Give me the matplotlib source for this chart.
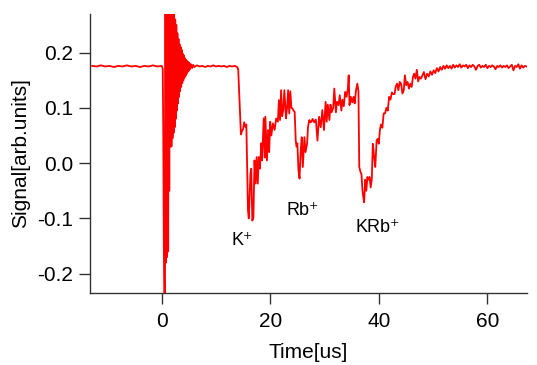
import numpy as np
import matplotlib.pyplot as plt

plt.rcParams['font.family'] = ['Liberation Sans', 'DejaVu Sans']

# pre-trigger baseline
pre_t = [-12.8, -12.0, -11.2, -10.4, -9.6, -8.8, -8.0, -7.2, -6.4, -5.6, -4.8,
         -4.0, -3.2, -2.4, -1.6, -0.8, 0.0]
pre_s = [0.176, 0.175, 0.177, 0.175, 0.176, 0.174, 0.176, 0.175, 0.177, 0.175,
         0.176, 0.174, 0.176, 0.175, 0.177, 0.175, 0.176]

# trigger pickup / ringing
ring_t = [0.1, 0.2, 0.3, 0.4, 0.5, 0.6, 0.7, 0.8, 0.9, 1.0, 1.1, 1.2, 1.3, 1.4,
          1.5, 1.6, 1.7, 1.8, 1.9, 2.0, 2.1, 2.2, 2.3, 2.4, 2.5, 2.6, 2.7, 2.8,
          2.9, 3.0, 3.1, 3.2, 3.3, 3.4, 3.5, 3.6, 3.7, 3.8, 3.9, 4.0, 4.1, 4.2,
          4.3, 4.4, 4.5, 4.6, 4.7, 4.8, 4.9, 5.0, 5.1, 5.2, 5.4, 5.6, 5.8, 6.0]
ring_s = [0.174, 0.17, 0.05, -0.15, -0.26, -0.30, 0.30, -0.18, 0.31, -0.17,
          0.32, -0.16, 0.31, -0.05, 0.31, 0.03, 0.30, 0.03, 0.30, 0.045, 0.29,
          0.055, 0.28, 0.065, 0.26, 0.08, 0.25, 0.095, 0.235, 0.108, 0.225, 0.12,
          0.215, 0.13, 0.21, 0.138, 0.205, 0.145, 0.198, 0.15, 0.195, 0.155,
          0.19, 0.158, 0.187, 0.162, 0.185, 0.165, 0.183, 0.167, 0.181, 0.17,
          0.179, 0.172, 0.178, 0.174]

# flat part before the ions arrive
flat_t = [6.5, 7.0, 7.5, 8.0, 8.5, 9.0, 9.5, 10.0, 10.5, 11.0, 11.5, 12.0,
          12.5, 13.0, 13.5, 13.9]
flat_s = [0.177, 0.175, 0.176, 0.174, 0.176, 0.175, 0.177, 0.175, 0.176, 0.175,
          0.176, 0.174, 0.176, 0.175, 0.176, 0.174]

# K+ peak
k_t = [14.1, 14.4, 14.6, 14.8, 15.0, 15.2, 15.4, 15.6, 15.9, 16.05, 16.2, 16.35,
       16.5, 16.7, 16.9, 17.1, 17.3, 17.5, 17.7, 17.9, 18.1, 18.35, 18.5, 18.8,
       19.0, 19.1, 19.4, 19.6, 19.8, 20.0, 20.2, 20.5, 20.8, 21.1, 21.4, 21.6,
       21.8, 22.0, 22.2, 22.4, 22.6, 22.9, 23.1, 23.3, 23.5, 23.7, 23.9, 24.1,
       24.3, 24.5]
k_s = [0.17, 0.10, 0.052, 0.058, 0.062, 0.074, 0.066, 0.07, -0.086, -0.1,
       -0.06, -0.02, -0.01, -0.104, -0.098, 0.005, -0.037, 0.011, -0.037, 0.011,
       -0.01, 0.036, 0.005, 0.081, 0.01, 0.084, 0.005, 0.06, 0.02, 0.075, 0.05,
       0.072, 0.06, 0.081, 0.075, 0.114, 0.078, 0.132, 0.085, 0.096, 0.132,
       0.081, 0.1, 0.132, 0.09, 0.13, 0.1, 0.099, 0.095, 0.093]

# Rb+ peak
rb_t = [24.7, 24.85, 25.0, 25.2, 25.4, 25.6, 25.8, 26.0, 26.3, 26.5, 26.8,
        26.95, 27.2, 27.4, 27.6, 27.8, 28.1, 28.4, 28.7, 29.0, 29.3, 29.6, 29.9,
        30.2, 30.4, 30.6, 30.9, 31.1, 31.3, 31.6, 31.8, 32.1, 32.3, 32.6, 32.8,
        33.1, 33.3, 33.55, 33.8, 34.05, 34.3, 34.45, 34.6, 34.85, 35.1, 35.35,
        35.55, 35.8, 36.05, 36.25]
rb_s = [0.04, 0.03, 0.036, -0.013, -0.028, 0.02, 0.047, -0.007, 0.047, 0.02,
        0.036, 0.065, 0.078, 0.074, 0.075, 0.08, 0.074, 0.079, 0.041, 0.084,
        0.065, 0.096, 0.06, 0.111, 0.075, 0.106, 0.078, 0.106, 0.092, 0.1,
        0.135, 0.092, 0.111, 0.105, 0.123, 0.095, 0.115, 0.103, 0.129, 0.12,
        0.135, 0.159, 0.105, 0.12, 0.11, 0.12, 0.108, 0.132, 0.144, 0.13]

# KRb+ peak
krb_t = [36.4, 36.6, 36.8, 37.0, 37.15, 37.3, 37.5, 37.7, 37.9, 38.1, 38.3,
         38.5, 38.7, 38.9, 39.15, 39.35, 39.6, 39.8, 40.0, 40.2, 40.4, 40.65,
         40.9, 41.15, 41.4, 41.65, 41.9, 42.15, 42.4, 42.65, 42.9, 43.1, 43.35,
         43.6, 43.85, 44.1, 44.35, 44.6, 44.8, 45.05, 45.3, 45.55, 45.8, 46.05,
         46.3, 46.5, 46.75, 47.0, 47.25, 47.5, 47.75]
krb_s = [-0.007, -0.015, -0.02, -0.05, -0.062, -0.071, -0.03, -0.05, -0.025,
         -0.03, -0.025, -0.044, -0.03, 0.035, 0.01, -0.007, 0.041, 0.044, 0.035,
         0.06, 0.07, 0.064, 0.09, 0.09, 0.1, 0.095, 0.12, 0.115, 0.128, 0.125,
         0.125, 0.138, 0.144, 0.132, 0.147, 0.144, 0.126, 0.132, 0.159, 0.141,
         0.147, 0.135, 0.144, 0.138, 0.156, 0.162, 0.153, 0.169, 0.148, 0.156,
         0.153]

# recovery tail
tail_t = [48.0, 48.3, 48.6, 48.9, 49.2, 49.5, 49.8, 50.1, 50.4, 50.7, 51.0,
          51.3, 51.6, 51.9, 52.2, 52.5, 52.8, 53.1, 53.4, 53.7, 54.0, 54.3,
          54.6, 54.9, 55.2, 55.5, 55.8, 56.1, 56.4, 56.7, 57.0, 57.3, 57.6,
          57.9, 58.2, 58.5, 58.8, 59.1, 59.4, 59.7, 60.0, 60.3, 60.6, 60.9,
          61.2, 61.5, 61.8, 62.1, 62.4, 62.7, 63.0, 63.3, 63.6, 63.9, 64.2,
          64.5, 64.8, 65.1, 65.4, 65.7, 66.0, 66.3, 66.6, 66.9, 67.2]
tail_s = [0.158, 0.165, 0.152, 0.162, 0.157, 0.166, 0.16, 0.168, 0.163, 0.172,
          0.166, 0.174, 0.169, 0.176, 0.171, 0.177, 0.172, 0.176, 0.171, 0.178,
          0.173, 0.177, 0.174, 0.179, 0.173, 0.177, 0.175, 0.178, 0.172, 0.177,
          0.174, 0.178, 0.175, 0.169, 0.176, 0.178, 0.173, 0.176, 0.174, 0.178,
          0.172, 0.176, 0.174, 0.177, 0.175, 0.17, 0.176, 0.174, 0.177, 0.173,
          0.176, 0.174, 0.177, 0.172, 0.175, 0.178, 0.168, 0.176, 0.174, 0.179,
          0.171, 0.177, 0.173, 0.176, 0.175]

time = np.concatenate([pre_t, ring_t, flat_t, k_t, rb_t, krb_t, tail_t])
signal = np.concatenate([pre_s, ring_s, flat_s, k_s, rb_s, krb_s, tail_s])

# peak labels
labels = ["K\u207a", "Rb\u207a", "KRb\u207a"]
label_t = [14.8, 26.0, 39.8]
label_s = [-0.14, -0.086, -0.117]

fig = plt.figure(figsize=(5.37, 3.65), dpi=100)
ax = fig.add_axes([0.1676, 0.1973, 0.8138, 0.7644])
ax.plot(time, signal, color='#ff0000', lw=1.3)

for lab, tx, sy in zip(labels, label_t, label_s):
    ax.text(tx, sy, lab, ha='center', va='center', fontsize=13)

ax.set_xlim(-13.2, 67.3)
ax.set_ylim(-0.235, 0.27)
ax.set_xticks([0, 20, 40, 60])
ax.set_yticks([-0.2, -0.1, 0.0, 0.1, 0.2])
ax.set_yticklabels(['-0.2', '-0.1', '0.0', '0.1', '0.2'])
ax.spines['top'].set_visible(False)
ax.spines['right'].set_visible(False)
for sp in ['left', 'bottom']:
    ax.spines[sp].set_color('#333333')
    ax.spines[sp].set_linewidth(1.0)
ax.tick_params(direction='out', length=8, width=1.0, color='#333333',
               labelsize=15, pad=4)
ax.tick_params(axis='x', pad=6)
ax.set_xlabel("Time[us]", fontsize=15, labelpad=8)
ax.set_ylabel("Signal[arb.units]", fontsize=15, labelpad=5)

fig.savefig("out.png", dpi=100)
